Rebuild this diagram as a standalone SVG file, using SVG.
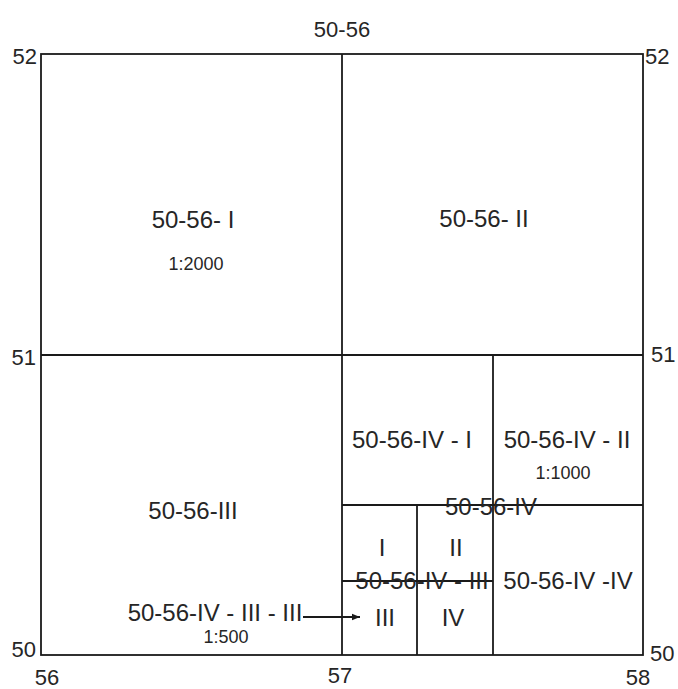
<svg xmlns="http://www.w3.org/2000/svg" width="678" height="689" viewBox="0 0 678 689">
<style>
.ln{stroke:#1a1a1a;stroke-width:1.8;fill:none}
.t{font-family:"Liberation Sans","Noto Sans CJK SC",sans-serif;font-size:24px;fill:#262626;text-anchor:middle}
.a{font-family:"Liberation Sans","Noto Sans CJK SC",sans-serif;font-size:22px;fill:#262626;text-anchor:middle}
.s{font-family:"Liberation Sans","Noto Sans CJK SC",sans-serif;font-size:18px;fill:#262626;text-anchor:middle}
.l{text-anchor:end}
.r{text-anchor:start}
</style>
<defs>
<marker id="ah" viewBox="0 0 10 10" refX="10" refY="5" markerWidth="9" markerHeight="8" markerUnits="userSpaceOnUse" orient="auto">
<path d="M0,1 L10,5 L0,9 z" fill="#1a1a1a"/>
</marker>
</defs>
<rect width="678" height="689" fill="#fff"/>
<g id="grid">
<rect class="ln" x="41" y="54" width="602" height="601"/>
<line class="ln" x1="342" y1="54" x2="342" y2="655"/>
<line class="ln" x1="41" y1="355" x2="643" y2="355"/>
<line class="ln" x1="493" y1="355" x2="493" y2="655"/>
<line class="ln" x1="342" y1="505" x2="643" y2="505"/>
<line class="ln" x1="417" y1="505" x2="417" y2="655"/>
<line class="ln" x1="342" y1="581" x2="493" y2="581"/>
</g>
<g id="axis-labels">
<text class="a" x="342" y="37">50-56</text>
<text class="a l" x="37" y="64">52</text>
<text class="a r" x="645" y="64">52</text>
<text class="a l" x="36" y="365">51</text>
<text class="a r" x="651" y="362">51</text>
<text class="a l" x="36" y="657">50</text>
<text class="a r" x="650" y="661">50</text>
<text class="a" x="47" y="685">56</text>
<text class="a" x="340" y="683">57</text>
<text class="a" x="638" y="685">58</text>
</g>
<g id="sheet-I">
<text class="t" x="193" y="228">50-56- I</text>
<text class="s" x="196" y="270">1:2000</text>
</g>
<g id="sheet-II">
<text class="t" x="484" y="227">50-56- II</text>
</g>
<g id="sheet-III">
<text class="t" x="193" y="519">50-56-III</text>
</g>
<g id="sheet-IV">
<text class="t" x="491" y="515">50-56-IV</text>
</g>
<g id="sheet-IV-I">
<text class="t" x="412" y="448">50-56-IV - I</text>
</g>
<g id="sheet-IV-II">
<text class="t" x="567" y="448">50-56-IV - II</text>
<text class="s" x="563" y="479">1:1000</text>
</g>
<g id="sheet-IV-III">
<text class="t" x="382" y="556">I</text>
<text class="t" x="456" y="556">II</text>
<text class="t" x="385" y="626">III</text>
<text class="t" x="453" y="626">IV</text>
<text class="t" x="422" y="589">50-56-IV - III</text>
</g>
<g id="sheet-IV-IV">
<text class="t" x="568" y="589">50-56-IV -IV</text>
</g>
<g id="sheet-IV-III-III">
<text class="t" x="215" y="621">50-56-IV - III - III</text>
<text class="s" x="226" y="643">1:500</text>
</g>
<g id="connectors">
<line class="ln" x1="303" y1="617" x2="360" y2="617" marker-end="url(#ah)"/>
</g>
</svg>
